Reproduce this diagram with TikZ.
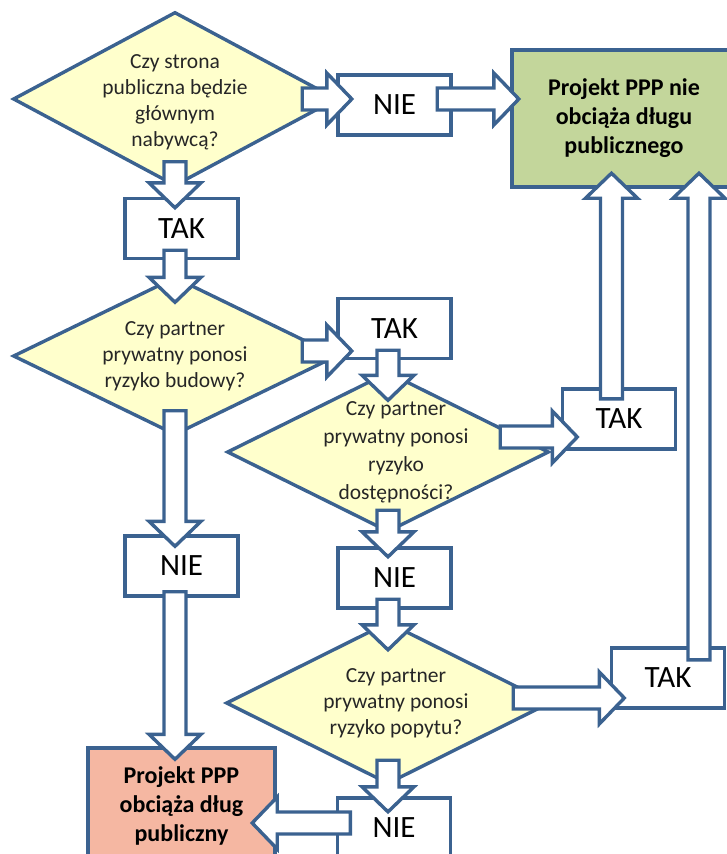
\documentclass[tikz,border=0pt]{standalone}
\usepackage{fontspec}
\setmainfont{Carlito}
\usetikzlibrary{shapes.geometric, calc}

\definecolor{edge}{HTML}{3B6290}
\definecolor{askfill}{HTML}{FFFFCC}
\definecolor{okfill}{HTML}{C3D69B}
\definecolor{debtfill}{HTML}{F5B7A2}

\newcommand{\shaftw}{11pt}
\newcommand{\headw}{26pt}
\newcommand{\headl}{25pt}
\newcommand{\blockarrow}[4]{%
  \path ($(#1)+(#2)$) coordinate (BA1) ($(#3)+(#4)$) coordinate (BA2);
  \draw[barrow] ($(BA1)!\shaftw!90:(BA2)$)
    -- ($(BA2)!\headl!(BA1)!\shaftw!-90:(BA1)$)
    -- ($(BA2)!\headl!(BA1)!\headw!-90:(BA1)$)
    -- (BA2)
    -- ($(BA2)!\headl!(BA1)!\headw!90:(BA1)$)
    -- ($(BA2)!\headl!(BA1)!\shaftw!90:(BA1)$)
    -- ($(BA1)!\shaftw!-90:(BA2)$) -- cycle;}

\begin{document}
\begin{tikzpicture}[x=1pt, y=-1pt,
    frame/.style={draw=edge, line width=3.4pt},
    ask/.style={frame, diamond, fill=askfill, inner sep=0pt},
    asktext/.style={align=center, text=black!85, font=\fontsize{21.5}{26}\selectfont},
    answer/.style={frame, fill=white, minimum width=113pt, minimum height=60pt, inner sep=0pt, font=\fontsize{31}{37}\selectfont},
    result/.style={frame, align=center, inner sep=0pt, font=\bfseries\fontsize{24}{29}\selectfont},
    barrow/.style={frame, fill=white, line join=miter}]
    \useasboundingbox (0,0) rectangle (727,854);
    \node[ask, minimum width=324pt, minimum height=174pt,
        label={[asktext, yshift=-3pt]center:{Czy strona\\publiczna będzie\\głównym\\nabywcą?}}] (D1) at (175,99) {};
    \node[ask, minimum width=324pt, minimum height=158pt,
        label={[asktext]center:{Czy partner\\prywatny ponosi\\ryzyko budowy?}}] (D2) at (175,356) {};
    \node[ask, minimum width=322pt, minimum height=160pt,
        label={[asktext, xshift=8pt, font=\fontsize{21.5}{28}\selectfont]center:{Czy partner\\prywatny ponosi\\ryzyko\\dostępności?}}] (D3) at (388,452) {};
    \node[ask, minimum width=324pt, minimum height=162pt,
        label={[asktext, xshift=8pt]center:{Czy partner\\prywatny ponosi\\ryzyko popytu?}}] (D4) at (388,703) {};
    \node[answer] (N1) at (394.5,105) {NIE};
    \node[answer] (T1) at (181.5,228.5) {TAK};
    \node[answer] (T2) at (394.5,328.5) {TAK};
    \node[answer] (T3) at (619,419) {TAK};
    \node[answer] (N2) at (181.5,566) {NIE};
    \node[answer] (N3) at (394.5,578) {NIE};
    \node[answer] (T4) at (668,678) {TAK};
    \node[answer] (N4) at (394,828) {NIE};
    \node[result, fill=okfill, minimum width=224pt, minimum height=137pt] (R1) at (624,118.5) {Projekt PPP nie\\obciąża długu\\publicznego};
    \node[result, fill=debtfill, minimum width=187pt, minimum height=116pt] (R2) at (181.5,806) {Projekt PPP\\obciąża dług\\publiczny};
    \blockarrow{D1.south}{0,-26}{T1.north -| D1.center}{0,11}
    \blockarrow{T1.south -| D2.center}{0,-10}{D2.north}{0,27}
    \blockarrow{D2.south}{0,-26}{N2.north -| D2.center}{0,12}
    \blockarrow{N2.south -| D2.center}{0,-6}{R2.north -| D2.center}{0,13}
    \blockarrow{D1.east}{-36.5,0}{N1.west |- D1.center}{15.5,0}
    \blockarrow{N1.east |- D1.center}{-15.5,0}{R1.west |- D1.center}{8.5,0}
    \blockarrow{D2.east}{-36.5,-5}{T2.west |- D2.east}{15.5,-5}
    \blockarrow{T2.south -| D3.center}{0,-10}{D3.north}{0,30}
    \blockarrow{D3.east}{-50.5,-15}{T3.west |- D3.east}{16.5,-15}
    \blockarrow{D3.south}{0,-23.5}{N3.north -| D3.center}{0,10.5}
    \blockarrow{N3.south -| D4.center}{0,-10.5}{D4.north}{0,29.5}
    \blockarrow{D4.east}{-38.5,-5}{T4.west |- D4.east}{14.5,-5}
    \blockarrow{D4.south}{0,-25.5}{N4.north -| D4.center}{0,15.5}
    \blockarrow{N4.west}{14.5,-5}{R2.east |- N4.west}{-24.5,-5}
    \blockarrow{T3.north}{-7.5,11.5}{R1.south -| T3.north}{-7.5,-15.5}
    \blockarrow{T4.north}{31,13.5}{R1.south -| T4.north}{31,-15.5}
\end{tikzpicture}
\end{document}
